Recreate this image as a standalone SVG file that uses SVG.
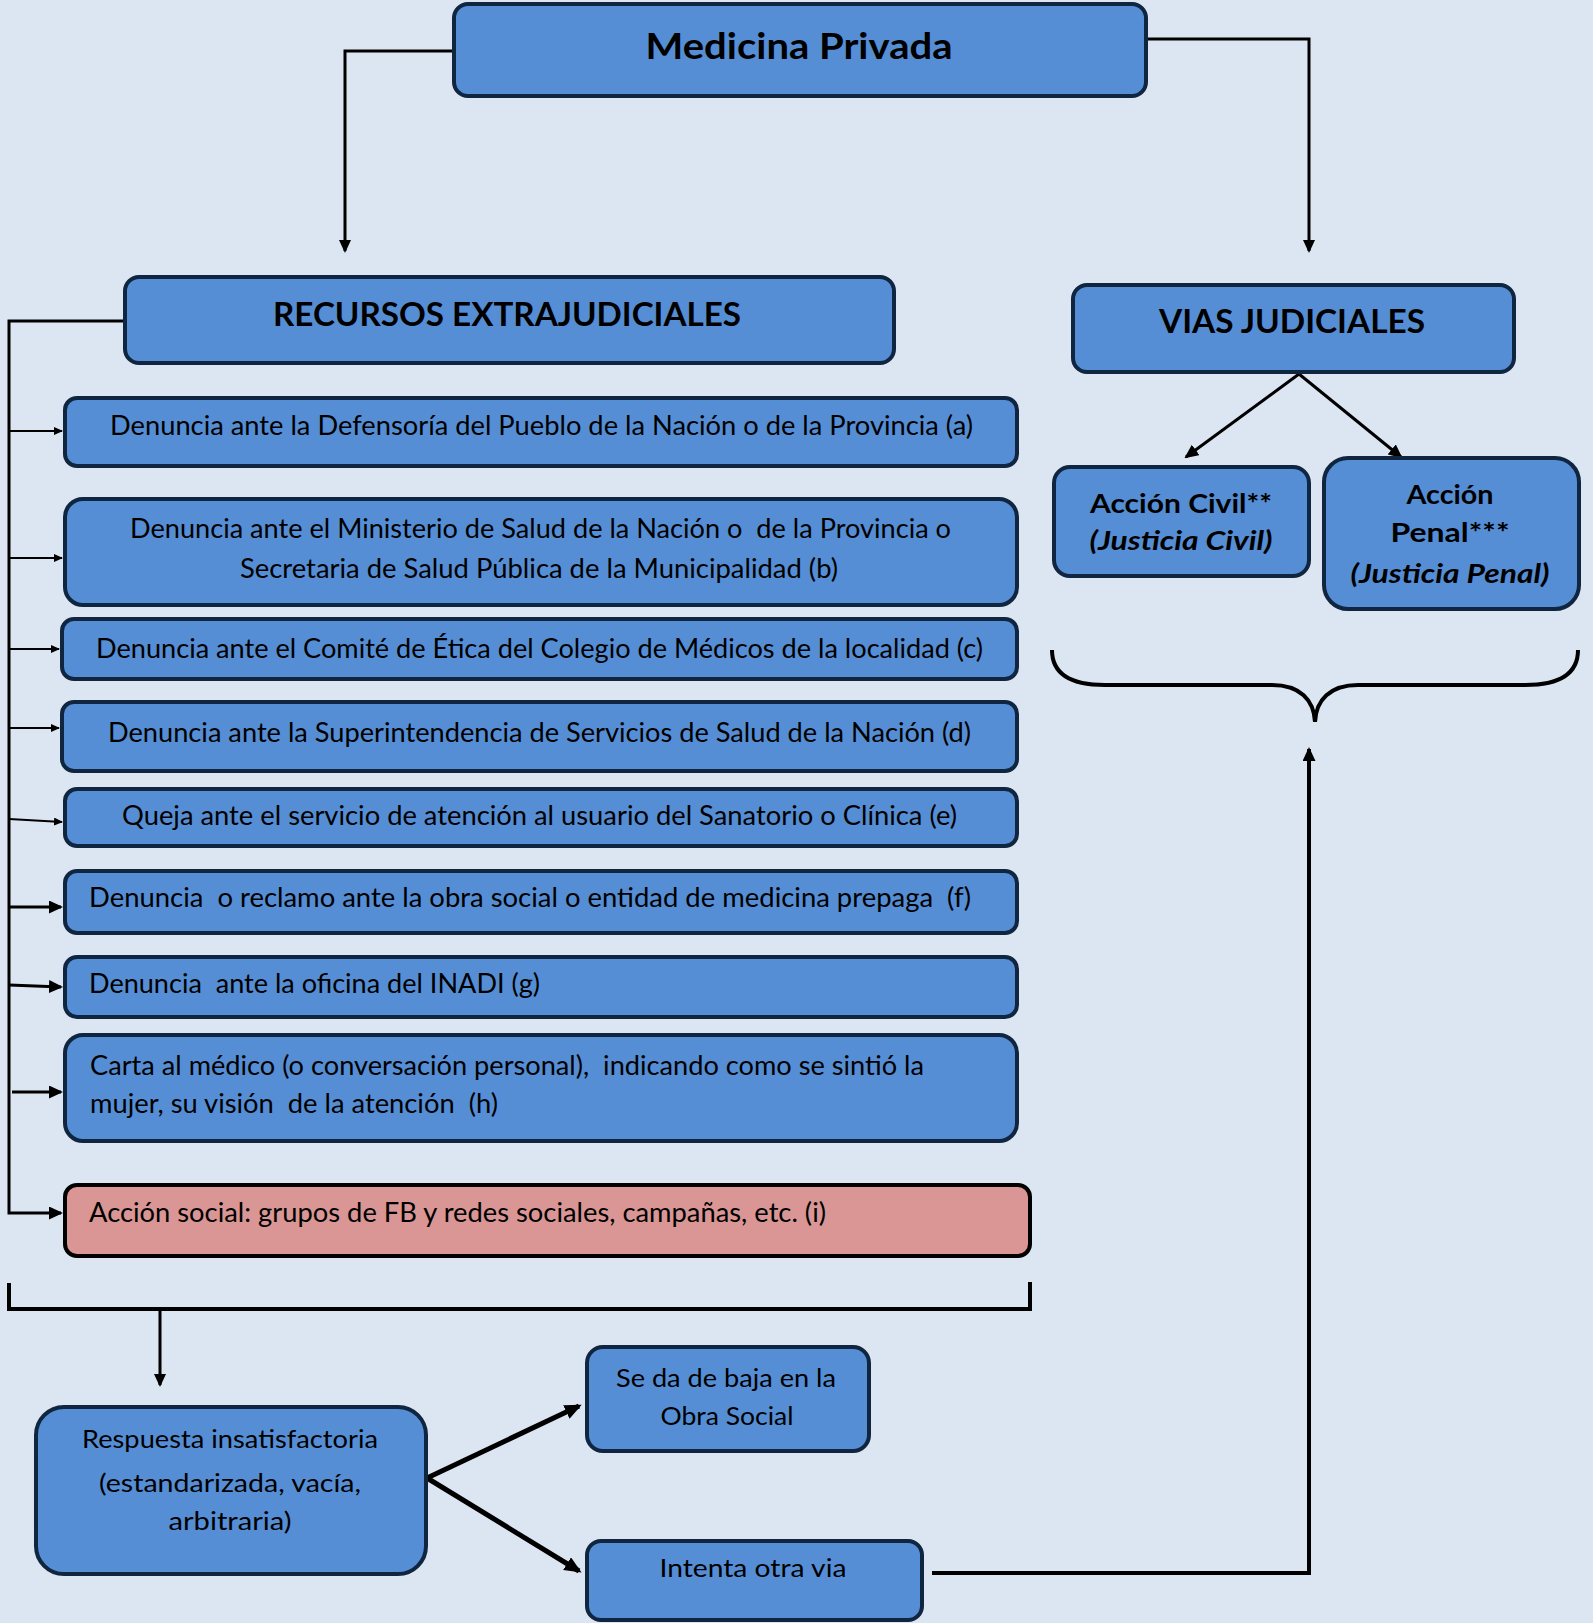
<svg xmlns="http://www.w3.org/2000/svg" width="1593" height="1623" viewBox="0 0 1593 1623">
<style>
.bx{fill:#558ed5;stroke:#10253f;stroke-width:4}
.pk{fill:#d99694;stroke:#000;stroke-width:4}
.t{font-family:Lato,"Liberation Sans",sans-serif;font-size:26px;fill:#000}
.tc{font-family:Lato,"Liberation Sans",sans-serif;font-size:25px;fill:#000;text-anchor:middle}
.b{font-family:Lato,"Liberation Sans",sans-serif;font-weight:bold;fill:#000;text-anchor:middle}
.ln{fill:none;stroke:#000}
</style>
<defs>
<marker id="aS" markerUnits="userSpaceOnUse" markerWidth="10" markerHeight="8" refX="8" refY="4" orient="auto"><path d="M0,0 L9,4 L0,8 z" fill="#000"/></marker>
<marker id="aM" markerUnits="userSpaceOnUse" markerWidth="14" markerHeight="13" refX="12" refY="6.5" orient="auto"><path d="M0,0 L14,6.5 L0,13 z" fill="#000"/></marker>
<marker id="aT" markerUnits="userSpaceOnUse" markerWidth="13" markerHeight="12" refX="11" refY="6" orient="auto"><path d="M0,0 L13,6 L0,12 z" fill="#000"/></marker>
<marker id="aL" markerUnits="userSpaceOnUse" markerWidth="17" markerHeight="15" refX="14" refY="7.5" orient="auto"><path d="M0,0 L17,7.5 L0,15 z" fill="#000"/></marker>
</defs>
<rect width="1593" height="1623" fill="#dce6f2"/>

<g id="connectors">
<path class="ln" stroke-width="3" d="M452,51 H345 V251" marker-end="url(#aT)"/>
<path class="ln" stroke-width="3" d="M1148,39 H1309 V251" marker-end="url(#aT)"/>
<path class="ln" stroke-width="3" d="M123,321 H9 V1213 H61" marker-end="url(#aM)"/>
<path class="ln" stroke-width="2" d="M9,431 H62" marker-end="url(#aS)"/>
<path class="ln" stroke-width="2" d="M9,558 H62" marker-end="url(#aS)"/>
<path class="ln" stroke-width="2" d="M9,649 H59" marker-end="url(#aS)"/>
<path class="ln" stroke-width="2" d="M9,728 H59" marker-end="url(#aS)"/>
<path class="ln" stroke-width="2" d="M9,819 L62,822" marker-end="url(#aS)"/>
<path class="ln" stroke-width="3" d="M9,907 H61" marker-end="url(#aM)"/>
<path class="ln" stroke-width="3" d="M9,985 L61,987" marker-end="url(#aM)"/>
<path class="ln" stroke-width="3" d="M12,1092 H61" marker-end="url(#aM)"/>
<path class="ln" stroke-width="3" d="M1299,374 L1186,457" marker-end="url(#aM)"/>
<path class="ln" stroke-width="3" d="M1299,374 L1401,457" marker-end="url(#aM)"/>
<path class="ln" stroke-width="4" d="M1052,650 C1052,672 1068,685 1105,685 L1272,685 C1300,685 1314,700 1315,722 C1316,700 1330,685 1358,685 L1525,685 C1562,685 1578,672 1578,650"/>
<path class="ln" stroke-width="4" d="M9,1283 V1309 H1030 V1282"/>
<path class="ln" stroke-width="3" d="M160,1309 V1385" marker-end="url(#aT)"/>
<path class="ln" stroke-width="5" d="M427,1478 L579,1406" marker-end="url(#aL)"/>
<path class="ln" stroke-width="5" d="M427,1478 L579,1571" marker-end="url(#aL)"/>
<path class="ln" stroke-width="4" d="M932,1573 H1309 V749" marker-end="url(#aM)"/>
</g>

<g id="medicina-privada">
<rect class="bx" x="454" y="4" width="692" height="92" rx="14"/>
<text class="b" x="799" y="59" font-size="36" textLength="307" lengthAdjust="spacingAndGlyphs">Medicina Privada</text>
</g>
<g id="recursos-extrajudiciales">
<rect class="bx" x="125" y="277" width="769" height="86" rx="14"/>
<text class="b" x="507" y="326" font-size="32" textLength="468" lengthAdjust="spacingAndGlyphs">RECURSOS EXTRAJUDICIALES</text>
</g>
<g id="vias-judiciales">
<rect class="bx" x="1073" y="285" width="441" height="87" rx="14"/>
<text class="b" x="1292" y="333" font-size="32" textLength="266" lengthAdjust="spacingAndGlyphs">VIAS JUDICIALES</text>
</g>
<g id="accion-civil">
<rect class="bx" x="1054" y="467" width="255" height="109" rx="16"/>
<text class="b" x="1181" y="513" font-size="27" textLength="182" lengthAdjust="spacingAndGlyphs">Acción Civil**</text>
<text class="b" x="1181" y="550" font-size="27" font-style="italic" textLength="183" lengthAdjust="spacingAndGlyphs">(Justicia Civil)</text>
</g>
<g id="accion-penal">
<rect class="bx" x="1324" y="458" width="255" height="151" rx="24"/>
<text class="b" x="1450" y="504" font-size="27" textLength="87" lengthAdjust="spacingAndGlyphs">Acción</text>
<text class="b" x="1450" y="542" font-size="27" textLength="119" lengthAdjust="spacingAndGlyphs">Penal***</text>
<text class="b" x="1450" y="583" font-size="27" font-style="italic" textLength="199" lengthAdjust="spacingAndGlyphs">(Justicia Penal)</text>
</g>

<g id="item-a">
<rect class="bx" x="65" y="398" width="952" height="68" rx="12"/>
<text class="t" x="110" y="435" textLength="863" lengthAdjust="spacingAndGlyphs">Denuncia ante la Defensoría del Pueblo de la Nación o de la Provincia (a)</text>
</g>
<g id="item-b">
<rect class="bx" x="65" y="499" width="952" height="106" rx="18"/>
<text class="t" x="130" y="538" textLength="821" lengthAdjust="spacingAndGlyphs" xml:space="preserve">Denuncia ante el Ministerio de Salud de la Nación o  de la Provincia o</text>
<text class="t" x="240" y="578" textLength="598" lengthAdjust="spacingAndGlyphs">Secretaria de Salud Pública de la Municipalidad (b)</text>
</g>
<g id="item-c">
<rect class="bx" x="62" y="619" width="955" height="60" rx="12"/>
<text class="t" x="96" y="658" textLength="887" lengthAdjust="spacingAndGlyphs">Denuncia ante el Comité de Ética del Colegio de Médicos de la localidad (c)</text>
</g>
<g id="item-d">
<rect class="bx" x="62" y="702" width="955" height="69" rx="12"/>
<text class="t" x="108" y="742" textLength="863" lengthAdjust="spacingAndGlyphs">Denuncia ante la Superintendencia de Servicios de Salud de la Nación (d)</text>
</g>
<g id="item-e">
<rect class="bx" x="65" y="789" width="952" height="57" rx="12"/>
<text class="t" x="122" y="825" textLength="835" lengthAdjust="spacingAndGlyphs">Queja ante el servicio de atención al usuario del Sanatorio o Clínica (e)</text>
</g>
<g id="item-f">
<rect class="bx" x="65" y="871" width="952" height="62" rx="12"/>
<text class="t" x="89" y="907" textLength="882" lengthAdjust="spacingAndGlyphs" xml:space="preserve">Denuncia  o reclamo ante la obra social o entidad de medicina prepaga  (f)</text>
</g>
<g id="item-g">
<rect class="bx" x="65" y="957" width="952" height="60" rx="12"/>
<text class="t" x="89" y="993" textLength="451" lengthAdjust="spacingAndGlyphs" xml:space="preserve">Denuncia  ante la oficina del INADI (g)</text>
</g>
<g id="item-h">
<rect class="bx" x="65" y="1035" width="952" height="106" rx="18"/>
<text class="t" x="90" y="1075" textLength="834" lengthAdjust="spacingAndGlyphs" xml:space="preserve">Carta al médico (o conversación personal),  indicando como se sintió la</text>
<text class="t" x="90" y="1113" textLength="408" lengthAdjust="spacingAndGlyphs" xml:space="preserve">mujer, su visión  de la atención  (h)</text>
</g>
<g id="item-i">
<rect class="pk" x="65" y="1185" width="965" height="71" rx="12"/>
<text class="t" x="89" y="1222" textLength="737" lengthAdjust="spacingAndGlyphs">Acción social: grupos de FB y redes sociales, campañas, etc. (i)</text>
</g>

<g id="respuesta">
<rect class="bx" x="36" y="1407" width="390" height="167" rx="28"/>
<text class="tc" x="230" y="1448" textLength="296" lengthAdjust="spacingAndGlyphs">Respuesta insatisfactoria</text>
<text class="tc" x="230" y="1492" textLength="262" lengthAdjust="spacingAndGlyphs">(estandarizada, vacía,</text>
<text class="tc" x="230" y="1530" textLength="123" lengthAdjust="spacingAndGlyphs">arbitraria)</text>
</g>
<g id="se-da-de-baja">
<rect class="bx" x="587" y="1347" width="282" height="104" rx="16"/>
<text class="tc" x="726" y="1387" textLength="220" lengthAdjust="spacingAndGlyphs">Se da de baja en la</text>
<text class="tc" x="727" y="1425" textLength="133" lengthAdjust="spacingAndGlyphs">Obra Social</text>
</g>
<g id="intenta-otra-via">
<rect class="bx" x="587" y="1541" width="335" height="79" rx="14"/>
<text class="tc" x="753" y="1577" textLength="187" lengthAdjust="spacingAndGlyphs">Intenta otra via</text>
</g>
</svg>
